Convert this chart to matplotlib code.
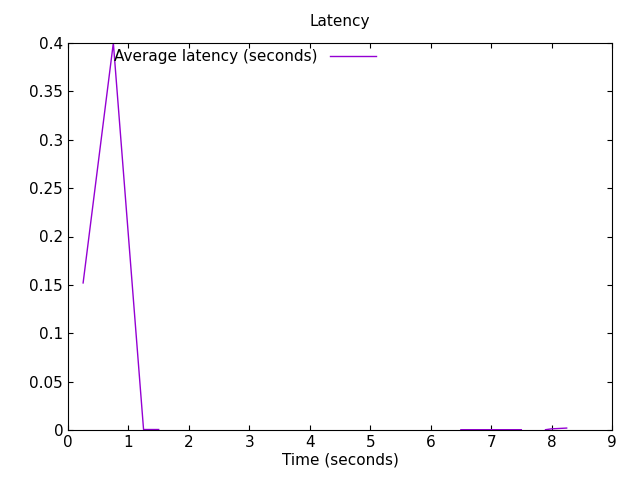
import numpy as np
import matplotlib
matplotlib.use("Agg")
import matplotlib.pyplot as plt

t = [0.25, 0.75, 1.25, 1.5, np.nan, 6.5, 7.0, 7.5, np.nan, 7.9, 8.0, 8.1, 8.25]
lat = [0.152, 0.4, 0.0005, 0.0005, np.nan, 0.0003, 0.0003, 0.0003, np.nan, 0.0003, 0.0012, 0.0015, 0.002]

fig = plt.figure(figsize=(6.4, 4.8), dpi=100)
ax = fig.add_axes([68/640, 1-430/480, (612-68)/640, (430-43)/480])
ax.plot(t, lat, color='#9400d3', lw=1)
ax.set_xlim(0, 9)
ax.set_ylim(0, 0.4)
ax.set_xticks(range(10))
ax.set_yticks([0, 0.05, 0.1, 0.15, 0.2, 0.25, 0.3, 0.35, 0.4])
ax.set_yticklabels(['0', '0.05', '0.1', '0.15', '0.2', '0.25', '0.3', '0.35', '0.4'])
ax.tick_params(direction='in', top=True, right=True, labelsize=11)
ax.set_xlabel('Time (seconds)', fontsize=11, labelpad=2)
ax.set_title('Latency', fontsize=11, pad=12)
ax.legend(['Average latency (seconds)'], loc='upper left', bbox_to_anchor=(0.06, 1.02),
          frameon=False, markerfirst=False, fontsize=11, handlelength=3)
fig.savefig('out.png')
